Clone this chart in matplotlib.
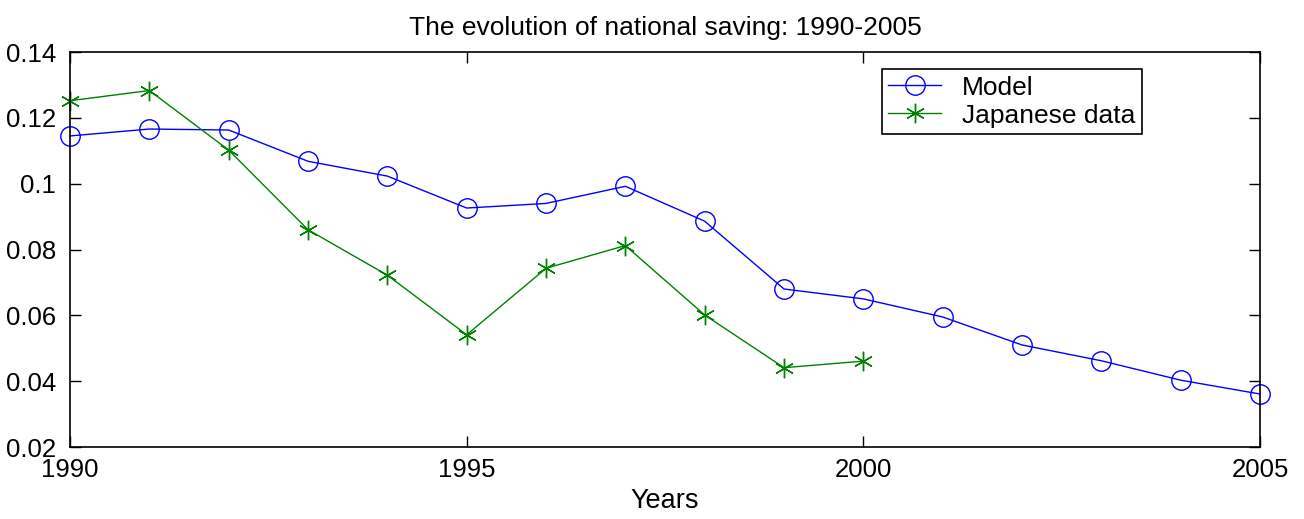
import matplotlib
matplotlib.use('Agg')
import matplotlib.pyplot as plt

plt.rcParams['font.family'] = ['Liberation Sans', 'DejaVu Sans']

years_model = [1990, 1991, 1992, 1993, 1994, 1995, 1996, 1997, 1998, 1999, 2000, 2001, 2002, 2003, 2004, 2005]
model = [0.1145, 0.1166, 0.1163, 0.1068, 0.1023, 0.0926, 0.0940, 0.0992, 0.0886, 0.0680, 0.0650, 0.0595, 0.0510, 0.0462, 0.0403, 0.0361]

years_jp = [1990, 1991, 1992, 1993, 1994, 1995, 1996, 1997, 1998, 1999, 2000]
japan = [0.1252, 0.1283, 0.1102, 0.0860, 0.0722, 0.0541, 0.0743, 0.0812, 0.0601, 0.0441, 0.0461]

fig = plt.figure(figsize=(13.04, 5.19), dpi=100)
ax = fig.add_axes([0.0537, 0.1387, 0.9126, 0.7611])

ax.plot(years_model, model, color='#0000ff', lw=1.0, marker='o', ms=14,
        mfc='none', mec='#0000ff', mew=1.0, label='Model', clip_on=False)
ax.plot(years_jp, japan, color='#008000', lw=1.0, marker=(6, 2, 0), ms=14,
        mec='#008000', mew=1.0, label='Japanese data', clip_on=False)

ax.set_xlim(1990, 2005)
ax.set_ylim(0.02, 0.14)
ax.set_xticks([1990, 1995, 2000, 2005])
ax.set_yticks([0.02, 0.04, 0.06, 0.08, 0.1, 0.12, 0.14])
ax.set_yticklabels(['0.02', '0.04', '0.06', '0.08', '0.1', '0.12', '0.14'])
ax.tick_params(direction='in', top=True, right=True, labelsize=18.5, length=8, width=1)
ax.tick_params(axis='x', pad=8)
ax.tick_params(axis='y', pad=10)
for s in ax.spines.values():
    s.set_linewidth(1.2)

ax.set_title('The evolution of national saving: 1990-2005', fontsize=19, pad=12)
ax.set_xlabel('Years', fontsize=19.5, labelpad=4)

leg = ax.legend(loc='upper right', bbox_to_anchor=(0.9008, 0.957), borderaxespad=0,
                fontsize=19, frameon=True, fancybox=False, edgecolor='black', framealpha=1,
                handlelength=2.0, handletextpad=0.8, borderpad=0.25, labelspacing=0.15)
leg.get_frame().set_linewidth(1.2)

fig.savefig('out.png', dpi=100)
